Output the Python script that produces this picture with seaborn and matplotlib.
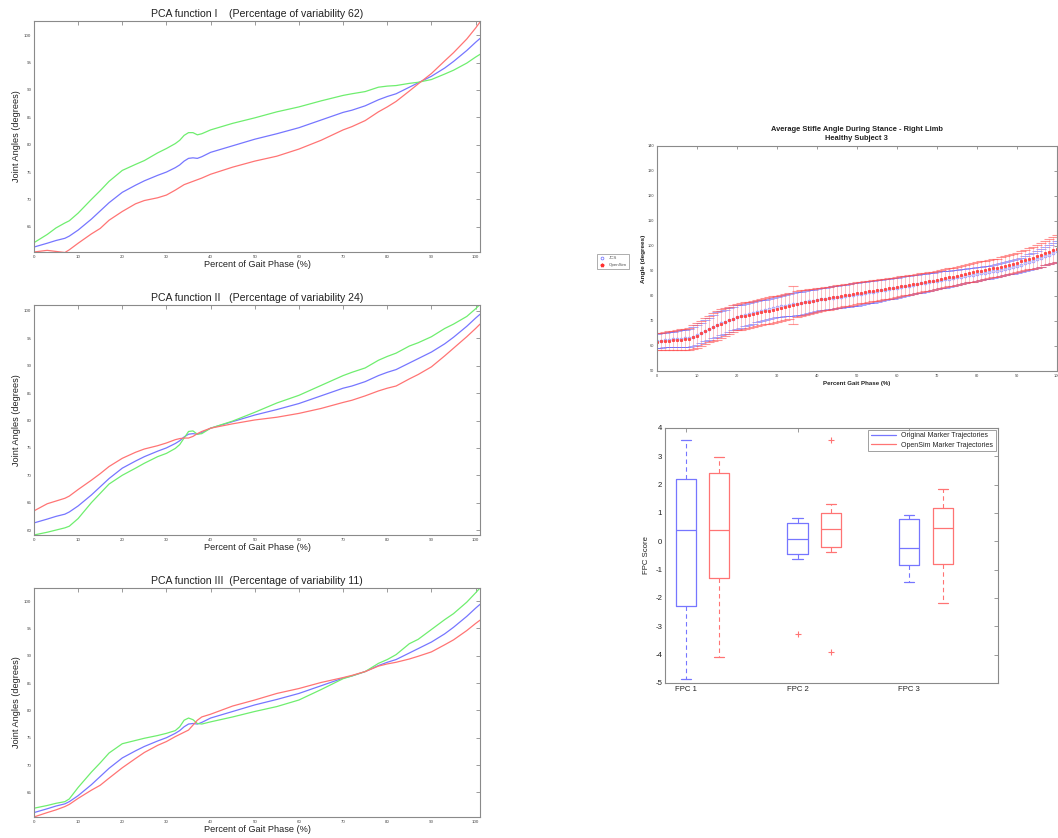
import numpy as np
import matplotlib
matplotlib.use("Agg")
import matplotlib.pyplot as plt
import seaborn as sns
from matplotlib.lines import Line2D

# --- PCA functions (left column) ---
gait_pct = [0, 3, 5, 7, 8, 10, 13, 15, 17, 20, 23, 25, 28, 30, 32, 33, 34, 35, 36, 37,
            38, 40, 45, 50, 55, 60, 65, 70, 72, 75, 78, 80, 82, 85, 87, 90, 93, 95, 98, 100, 101]

mean_curve = [61.3, 62.0, 62.5, 62.9, 63.3, 64.4, 66.4, 67.9, 69.4, 71.3, 72.6, 73.4, 74.4, 75.0,
              75.8, 76.3, 77.0, 77.5, 77.6, 77.5, 77.8, 78.6, 79.8, 81.0, 82.0, 83.1, 84.5, 85.9,
              86.3, 87.1, 88.2, 88.8, 89.3, 90.5, 91.3, 92.5, 94.0, 95.2, 97.2, 98.7, 99.4]

pc1_plus = [62.1, 63.6, 64.8, 65.7, 66.1, 67.5, 70.0, 71.6, 73.3, 75.3, 76.4, 77.1, 78.5, 79.3,
            80.2, 80.8, 81.7, 82.2, 82.2, 81.8, 82.0, 82.7, 83.9, 84.9, 86.0, 86.9, 88.0, 89.0,
            89.3, 89.7, 90.5, 90.7, 90.8, 91.2, 91.4, 91.9, 92.9, 93.6, 94.9, 96.0, 96.5]
pc1_minus = [60.4, 60.7, 60.5, 60.3, 60.8, 62.0, 63.7, 64.7, 66.2, 67.8, 69.2, 69.8, 70.3, 70.8,
             71.7, 72.2, 72.7, 73.0, 73.3, 73.6, 73.9, 74.6, 75.9, 77.0, 77.9, 79.2, 80.8, 82.7,
             83.3, 84.4, 86.0, 86.9, 87.9, 89.8, 91.1, 93.0, 95.3, 96.8, 99.3, 101.3, 102.4]

pc2_plus = [59.1, 59.6, 60.0, 60.4, 60.7, 62.1, 65.0, 66.7, 68.4, 70.0, 71.3, 72.2, 73.4, 74.0,
            74.9, 75.6, 76.8, 78.0, 78.1, 77.5, 77.6, 78.6, 79.9, 81.5, 83.2, 84.6, 86.4, 88.2,
            88.8, 89.6, 91.0, 91.7, 92.3, 93.6, 94.2, 95.3, 96.8, 97.6, 99.0, 100.4, 101.2]
pc2_minus = [63.5, 64.8, 65.3, 65.8, 66.2, 67.4, 69.1, 70.3, 71.6, 73.1, 74.2, 74.8, 75.4, 75.9,
             76.5, 76.7, 76.8, 76.8, 77.1, 77.6, 78.0, 78.6, 79.4, 80.1, 80.6, 81.3, 82.2, 83.3,
             83.7, 84.5, 85.4, 85.9, 86.3, 87.6, 88.4, 89.8, 91.8, 93.2, 95.3, 96.8, 97.6]

pc3_plus = [62.1, 62.6, 63.0, 63.3, 63.8, 65.9, 68.7, 70.4, 72.2, 73.9, 74.5, 74.9, 75.4, 75.8,
            76.3, 77.0, 78.2, 78.6, 78.3, 77.6, 77.5, 77.9, 78.8, 79.8, 80.7, 81.9, 83.8, 85.8,
            86.3, 87.1, 88.6, 89.3, 90.2, 92.2, 93.0, 94.8, 96.6, 97.7, 99.8, 101.5, 102.4]
pc3_minus = [60.5, 61.3, 61.8, 62.4, 62.8, 63.9, 65.4, 66.3, 67.6, 69.5, 71.2, 72.3, 73.6, 74.3,
             75.2, 75.6, 76.0, 76.4, 77.3, 78.2, 78.8, 79.3, 80.8, 81.9, 83.1, 84.0, 85.1, 86.0,
             86.4, 87.1, 88.1, 88.5, 88.8, 89.4, 89.9, 90.7, 92.0, 92.9, 94.6, 95.9, 96.5]

pca_titles = ["PCA function I    (Percentage of variability 62)",
              "PCA function II   (Percentage of variability 24)",
              "PCA function III  (Percentage of variability 11)"]

# --- Average stifle angle (right top) ---
stance_pct = list(range(101))
opensim_mean = [61.7, 61.8, 61.9, 62.0, 62.2, 62.3, 62.5, 62.6, 62.8, 63.4,
                64.0, 65.0, 65.9, 66.7, 67.5, 68.3, 68.9, 69.6, 70.2, 70.9,
                71.5, 71.8, 72.1, 72.5, 72.8, 73.1, 73.4, 73.8, 74.1, 74.5,
                74.8, 75.2, 75.6, 76.0, 76.4, 76.8, 77.1, 77.4, 77.7, 78.0,
                78.3, 78.6, 78.9, 79.1, 79.4, 79.7, 80.0, 80.3, 80.5, 80.8,
                81.1, 81.3, 81.6, 81.8, 82.1, 82.3, 82.5, 82.8, 83.0, 83.3,
                83.5, 83.8, 84.1, 84.3, 84.6, 84.9, 85.2, 85.5, 85.8, 86.1,
                86.4, 86.7, 87.0, 87.4, 87.7, 88.0, 88.4, 88.7, 89.1, 89.4,
                89.8, 90.1, 90.4, 90.7, 91.0, 91.3, 91.7, 92.1, 92.5, 92.9,
                93.3, 93.8, 94.3, 94.8, 95.3, 95.8, 96.4, 97.0, 97.7, 98.3, 98.9]
opensim_sd = [3.4, 3.5, 3.6, 3.8, 3.9, 4.0, 4.2, 4.3, 4.5, 4.8,
              5.0, 5.0, 5.1, 5.3, 5.6, 5.8, 5.7, 5.6, 5.5, 5.4,
              5.3, 5.3, 5.3, 5.2, 5.2, 5.2, 5.2, 5.2, 5.3, 5.3,
              5.3, 5.3, 5.3, 5.2, 7.7, 5.2, 5.1, 5.0, 4.9, 4.9,
              4.8, 4.7, 4.7, 4.6, 4.6, 4.5, 4.5, 4.4, 4.4, 4.3,
              4.3, 4.3, 4.3, 4.2, 4.2, 4.2, 4.2, 4.1, 4.1, 4.0,
              4.0, 4.0, 3.9, 3.9, 3.8, 3.8, 3.8, 3.7, 3.7, 3.6,
              3.6, 3.6, 3.6, 3.6, 3.6, 3.6, 3.6, 3.6, 3.7, 3.7,
              3.7, 3.7, 3.7, 3.6, 3.6, 3.6, 3.7, 3.7, 3.8, 3.8,
              3.9, 4.0, 4.1, 4.2, 4.4, 4.5, 4.7, 4.8, 5.0, 5.1, 5.3]
jcs_mean = [62.0, 62.1, 62.3, 62.4, 62.6, 62.7, 62.9, 63.0, 63.2, 63.7,
            64.3, 65.1, 66.0, 66.8, 67.7, 68.5, 69.1, 69.7, 70.3, 70.9,
            71.5, 71.9, 72.3, 72.8, 73.2, 73.6, 74.0, 74.4, 74.8, 75.2,
            75.6, 75.8, 76.1, 76.3, 76.6, 76.8, 77.1, 77.4, 77.8, 78.1,
            78.4, 78.6, 78.8, 79.1, 79.3, 79.5, 79.7, 79.9, 80.2, 80.4,
            80.6, 80.9, 81.2, 81.4, 81.7, 82.0, 82.3, 82.5, 82.8, 83.0,
            83.3, 83.6, 83.9, 84.1, 84.4, 84.7, 85.0, 85.3, 85.5, 85.8,
            86.1, 86.4, 86.6, 86.9, 87.1, 87.4, 87.7, 87.9, 88.2, 88.4,
            88.7, 89.0, 89.2, 89.5, 89.8, 90.1, 90.5, 90.8, 91.2, 91.5,
            91.9, 92.4, 93.0, 93.5, 94.1, 94.6, 95.2, 95.9, 96.5, 97.2, 97.8]
jcs_sd = [2.8, 2.9, 2.9, 3.0, 3.1, 3.2, 3.3, 3.5, 3.6, 3.8,
          4.0, 4.1, 4.2, 4.4, 4.7, 4.9, 4.9, 4.8, 4.8, 4.7,
          4.7, 4.6, 4.5, 4.4, 4.3, 4.2, 4.2, 4.1, 4.1, 4.0,
          4.0, 4.1, 4.2, 4.4, 4.5, 4.6, 4.6, 4.5, 4.5, 4.4,
          4.4, 4.4, 4.4, 4.5, 4.5, 4.5, 4.5, 4.5, 4.6, 4.6,
          4.6, 4.5, 4.5, 4.4, 4.4, 4.3, 4.2, 4.2, 4.1, 4.1,
          4.0, 3.9, 3.9, 3.8, 3.8, 3.7, 3.7, 3.6, 3.6, 3.5,
          3.5, 3.4, 3.3, 3.2, 3.1, 3.0, 2.9, 2.9, 2.8, 2.8,
          2.7, 2.7, 2.6, 2.6, 2.6, 2.6, 2.6, 2.6, 2.6, 2.7,
          2.7, 2.8, 2.9, 3.1, 3.2, 3.4, 3.6, 3.7, 3.9, 4.0, 4.2]

# --- FPC score box plot (right bottom) ---
fpc_labels = ["FPC 1", "FPC 2", "FPC 3"]
orig_whislo = [-4.85, -0.62, -1.45]
orig_q1 = [-2.27, -0.46, -0.84]
orig_med = [0.39, 0.08, -0.22]
orig_q3 = [2.21, 0.65, 0.79]
orig_whishi = [3.56, 0.81, 0.93]
orig_fliers = [[], [-3.27], []]
osim_whislo = [-4.08, -0.39, -2.19]
osim_q1 = [-1.28, -0.21, -0.80]
osim_med = [0.41, 0.42, 0.46]
osim_q3 = [2.41, 1.00, 1.18]
osim_whishi = [2.96, 1.31, 1.85]
osim_fliers = [[], [3.58, -3.89], []]

BLUE = "#7676ff"
GREEN = "#6fee6f"
RED = "#ff7474"
TXT = "#222222"
FRAME = "#8a8a8a"

sns.set_theme(style="white")
plt.rcParams["font.family"] = ["Liberation Sans", "DejaVu Sans"]
plt.rcParams["text.color"] = TXT
plt.rcParams["axes.labelcolor"] = TXT
plt.rcParams["axes.unicode_minus"] = False

fig = plt.figure(figsize=(10.58, 8.38), dpi=100)


def style_box(ax, lab_size):
    for sp in ax.spines.values():
        sp.set_color(FRAME)
        sp.set_linewidth(0.8)
    ax.tick_params(direction="in", top=True, right=True, length=3, width=0.6,
                   colors=FRAME, labelcolor="#444444", labelsize=lab_size, pad=2)


# left column
pca_axes = [[0.0321, 0.6993, 0.4216, 0.2757],
            [0.0321, 0.3616, 0.4216, 0.2745],
            [0.0321, 0.0251, 0.4216, 0.2733]]
pca_curves = [(pc1_plus, pc1_minus), (pc2_plus, pc2_minus), (pc3_plus, pc3_minus)]
pca_ylims = [(60.4, 102.6), (59.1, 101.1), (60.5, 102.4)]
pca_yticks = [range(65, 101, 5), range(60, 101, 5), range(65, 101, 5)]

for rect, (plus, minus), title, ylim, yt in zip(pca_axes, pca_curves, pca_titles, pca_ylims, pca_yticks):
    ax = fig.add_axes(rect)
    sns.lineplot(x=gait_pct, y=mean_curve, color=BLUE, lw=0.9, ax=ax)
    sns.lineplot(x=gait_pct, y=plus, color=GREEN, lw=0.9, ax=ax)
    sns.lineplot(x=gait_pct, y=minus, color=RED, lw=0.9, ax=ax)
    ax.set_xlim(0, 101)
    ax.set_ylim(*ylim)
    ax.set_xticks(range(0, 101, 10))
    ax.set_yticks(list(yt))
    style_box(ax, 3.2)
    ax.set_title(title, fontsize=7.6, pad=3)
    ax.set_xlabel("Percent of Gait Phase (%)", fontsize=6.6, labelpad=1)
    ax.set_ylabel("Joint Angles (degrees)", fontsize=6.6, labelpad=2)

# right top: error bars
ax = fig.add_axes([0.6207, 0.5573, 0.3784, 0.2685])
eb = ax.errorbar(stance_pct, jcs_mean, yerr=jcs_sd, fmt="o", ms=2.0, mfc="none", mec="#9a9aff",
                 mew=0.6, ecolor=(0.3, 0.3, 1.0, 0.6), elinewidth=0.5, capsize=3.4,
                 capthick=0.8, label="JCS")
for bars in eb[2]:
    bars.set_alpha(0.08)
eb = ax.errorbar(stance_pct, opensim_mean, yerr=opensim_sd, fmt="*", ms=1.9, color="#ff4a4a",
                 mec="#ff4a4a", ecolor=(1.0, 0.3, 0.3, 0.6), elinewidth=0.6, capsize=3.4,
                 capthick=0.8, label="OpenSim")
for bars in eb[2]:
    bars.set_color((1.0, 0.55, 0.55, 0.55))
ax.set_xlim(0, 100)
ax.set_ylim(50, 140)
ax.set_xticks(range(0, 101, 10))
ax.set_yticks(range(50, 141, 10))
style_box(ax, 2.8)
ax.tick_params(length=2.5)
ax.set_title("Average Stifle Angle During Stance - Right Limb\nHealthy Subject 3",
             fontsize=5.4, fontweight="bold", pad=4, linespacing=1.45)
ax.set_xlabel("Percent Gait Phase (%)", fontsize=4.4, fontweight="bold", labelpad=2)
ax.set_ylabel("Angle (degrees)", fontsize=4.6, fontweight="bold", labelpad=1)
leg = fig.legend(handles=[Line2D([], [], ls="none", marker="o", ms=2, mfc="none", mec="#7a7aff", mew=0.6),
                          Line2D([], [], ls="none", marker="*", ms=2.6, color="#ff3030")],
                 labels=["JCS", "OpenSim"], loc="upper left", bbox_to_anchor=(0.5625, 0.6995),
                 fontsize=3.2, frameon=True, fancybox=False, edgecolor="#888888",
                 handlelength=1.2, borderpad=0.5, labelspacing=0.6, handletextpad=0.8)
leg.get_frame().set_linewidth(0.6)
for t in leg.get_texts():
    t.set_color("#555555")

# right bottom: FPC box plot
ax = fig.add_axes([0.6285, 0.1850, 0.3147, 0.3043])
fpc_pos = np.arange(1, len(fpc_labels) + 1)
groups = [
    (orig_whislo, orig_q1, orig_med, orig_q3, orig_whishi, orig_fliers, BLUE, fpc_pos),
    (osim_whislo, osim_q1, osim_med, osim_q3, osim_whishi, osim_fliers, RED, fpc_pos + 0.3),
]
for lo, q1, med, q3, hi, fl, col, pos in groups:
    stats = [dict(whislo=lo[i], q1=q1[i], med=med[i], q3=q3[i], whishi=hi[i], fliers=fl[i])
             for i in range(len(fpc_labels))]
    ax.bxp(stats, positions=pos, widths=0.18, showfliers=True, manage_ticks=False,
           boxprops=dict(color=col, lw=0.9),
           medianprops=dict(color=col, lw=0.9),
           whiskerprops=dict(color=col, lw=0.8, ls=(0, (4, 3))),
           capprops=dict(color=col, lw=0.9),
           capwidths=0.09,
           flierprops=dict(marker="+", markeredgecolor=RED, markersize=4, mew=0.8, ls="none"))
ax.set_xlim(0.8125, 3.795)
ax.set_ylim(-5, 4)
ax.set_yticks(range(-5, 5))
ax.set_xticks(fpc_pos)
ax.set_xticklabels(fpc_labels)
style_box(ax, 5.6)
ax.tick_params(labelcolor=TXT)
ax.set_ylabel("FPC Score", fontsize=5.6, labelpad=4)
leg = ax.legend(handles=[Line2D([], [], color=BLUE, lw=0.9), Line2D([], [], color=RED, lw=0.9)],
                labels=["Original Marker Trajectories", "OpenSim Marker Trajectories"],
                loc="upper right", fontsize=5.0, frameon=True, fancybox=False,
                edgecolor="#888888", handlelength=3.6, borderpad=0.35, labelspacing=0.3,
                borderaxespad=0.3)
leg.get_frame().set_linewidth(0.7)

fig.savefig("out.png", dpi=100)
